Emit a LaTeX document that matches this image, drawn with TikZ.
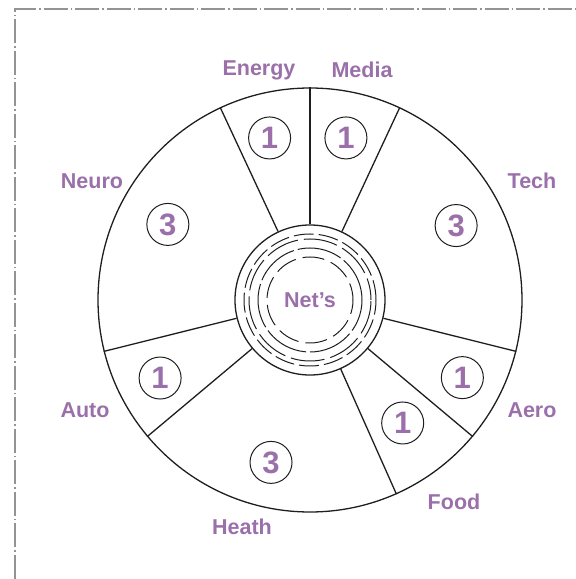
\documentclass[tikz,border=0pt]{standalone}
\usepackage{fontspec}
\setmainfont{Liberation Sans}
\definecolor{lilac}{RGB}{155,112,170}
\definecolor{rim}{RGB}{30,30,30}
\begin{document}
\begin{tikzpicture}[x=1pt,y=1pt,
    sector/.style={draw=rim, line width=1.3pt},
    num/.style={circle, draw=rim, line width=1pt, minimum size=42pt, inner sep=0pt,
                text=lilac, font=\bfseries\fontsize{31}{31}\selectfont},
    field/.style={text=lilac, font=\bfseries\fontsize{21.5}{21.5}\selectfont},
    groove/.style={draw=rim, line width=1pt}]
    \useasboundingbox (0,0) rectangle (576,579);
    % frame
    \draw[gray!85, line width=1.3pt, dash pattern=on 24pt off 3pt on 1.5pt off 3pt]
        (15,0) -- (15,570) -- (576,570);
    % wheel
    \coordinate (c) at (310,279);
    \node[circle, sector, minimum size=424pt, inner sep=0pt] (ring) at (c) {};
    \node[circle, sector, minimum size=150pt, inner sep=0pt] (hub) at (c) {};
    \foreach \a in {65,90,115,194,220,294,320,346}
        \draw[sector] (hub.\a) -- (ring.\a);
    % grooves in the hub
    \draw[groove, dash pattern=on 20pt off 5pt] (c) circle (66);
    \draw[groove, dash pattern=on 34pt off 6pt, dash phase=12pt] (c) circle (61);
    \draw[groove, dash pattern=on 45pt off 4pt] (c) circle (52);
    \draw[groove, dash pattern=on 22pt off 7pt, dash phase=5pt] (c) circle (43);
    \node[field] (nets) at (c) {Net’s};
    % counts
    \node[num] (energyN) at ([shift={(104:167)}]c) {1};
    \node[num] (mediaN) at ([shift={(77.5:166)}]c) {1};
    \node[num] (techN) at ([shift={(27:164)}]c) {3};
    \node[num] (aeroN) at ([shift={(-27:171)}]c) {1};
    \node[num] (foodN) at ([shift={(-53:154)}]c) {1};
    \node[num] (heathN) at ([shift={(256.5:167)}]c) {3};
    \node[num] (autoN) at ([shift={(207.5:169)}]c) {1};
    \node[num] (neuroN) at ([shift={(152:161)}]c) {3};
    % fields
    \node[field] (energy) at (259,509) {Energy};
    \node[field] (media) at (362,509) {Media};
    \node[field] (tech) at (532,398) {Tech};
    \node[field] (aero) at (532,169) {Aero};
    \node[field] (food) at (454,77) {Food};
    \node[field] (heath) at (242,52) {Heath};
    \node[field] (auto) at (85,169) {Auto};
    \node[field] (neuro) at (92,398) {Neuro};
\end{tikzpicture}
\end{document}
